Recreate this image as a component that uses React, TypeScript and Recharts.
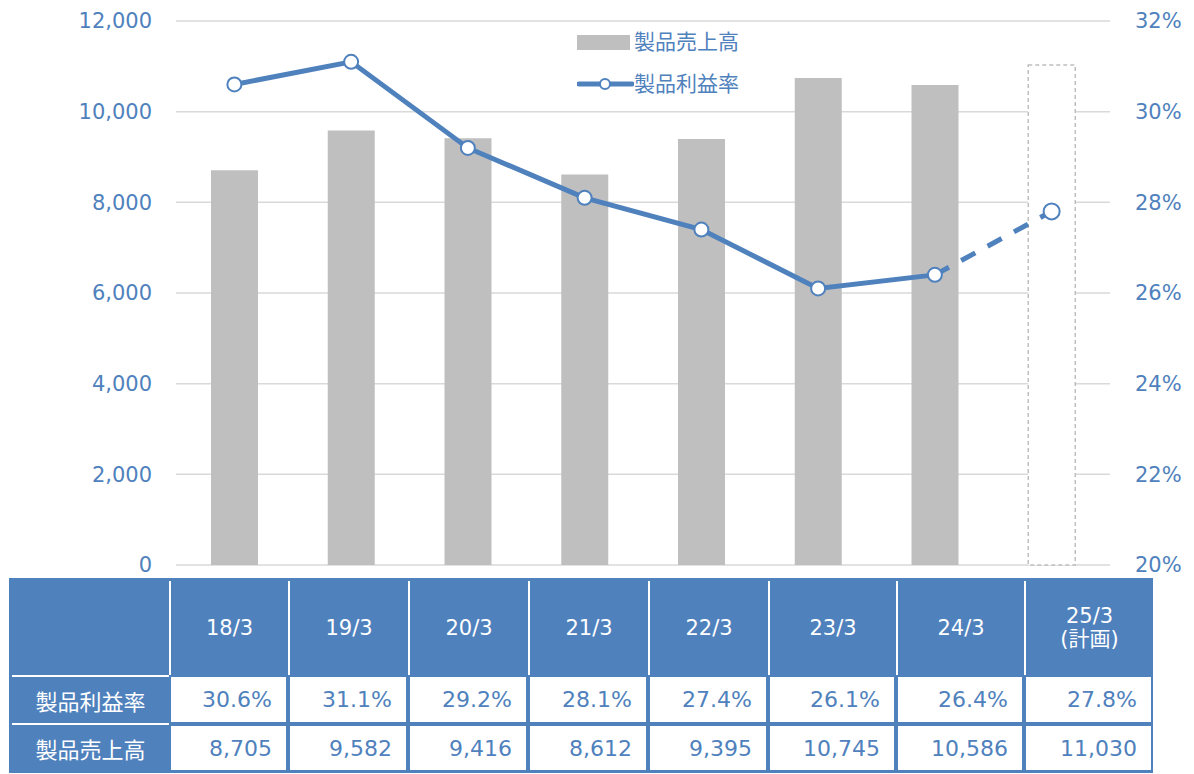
import React from 'react';
import {
  ComposedChart,
  Bar,
  Line,
  Cell,
  XAxis,
  YAxis,
  CartesianGrid,
} from 'recharts';

const categories = ['18/3', '19/3', '20/3', '21/3', '22/3', '23/3', '24/3', '25/3'];
const headerNotes = ['', '', '', '', '', '', '', '(計画)'];
const sales = [8705, 9582, 9416, 8612, 9395, 10745, 10586, 11030];
const profitRate = [30.6, 31.1, 29.2, 28.1, 27.4, 26.1, 26.4, 27.8];
const planIndex = 7;
const leftTicks = [0, 2000, 4000, 6000, 8000, 10000, 12000];
const rightTicks = [20, 22, 24, 26, 28, 30, 32];

const BLUE = '#4F81BD';
const GRAY = '#BFBFBF';
const FONT = '"DejaVu Sans", "Noto Sans CJK JP", sans-serif';

const data = categories.map((c, i) => ({
  name: c,
  sales: sales[i],
  actual: i < planIndex ? profitRate[i] : null,
  plan: i >= planIndex - 1 ? profitRate[i] : null,
}));

// table column edges (px)
const colEdges = [9, 169, 288, 408, 528, 648, 768, 896, 1024, 1153];

const LegendBox = () => (
  <div
    style={{
      position: 'absolute', left: 577, top: 30, fontFamily: FONT, fontSize: 21,
      color: BLUE, lineHeight: '24px',
    }}
  >
    <div style={{ display: 'flex', alignItems: 'center', height: 24 }}>
      <div style={{ width: 53, height: 15, background: GRAY, marginRight: 4 }} />
      <span>製品売上高</span>
    </div>
    <div style={{ display: 'flex', alignItems: 'center', height: 24, marginTop: 18 }}>
      <svg width={57} height={14}>
        <line x1={2} y1={7} x2={55} y2={7} stroke={BLUE} strokeWidth={5} strokeLinecap="round" />
        <circle cx={28} cy={7} r={5} fill="#fff" stroke={BLUE} strokeWidth={2} />
      </svg>
      <span>製品利益率</span>
    </div>
  </div>
);

const PlanDot = (props: any) => {
  const { cx, cy, index } = props;
  if (index !== planIndex || cx == null || cy == null) return <g key={`pd-${index}`} />;
  return <circle key={`pd-${index}`} cx={cx} cy={cy} r={8} fill="#fff" stroke={BLUE} strokeWidth={2} />;
};

const DataTable = () => {
  const cells: React.ReactNode[] = [];
  for (let i = 0; i < categories.length; i++) {
    const x0 = colEdges[i + 1];
    const x1 = colEdges[i + 2];
    cells.push(
      <div
        key={`h${i}`}
        style={{
          position: 'absolute', left: x0 - 9, top: 3, width: x1 - x0, height: 94,
          borderLeft: '2px solid #fff', boxSizing: 'border-box',
          display: 'flex', flexDirection: 'column', alignItems: 'center', justifyContent: 'center',
          color: '#fff', fontSize: 21, lineHeight: '23px',
        }}
      >
        <span>{categories[i]}</span>
        {headerNotes[i] && <span>{headerNotes[i]}</span>}
      </div>
    );
    const rows = [
      { top: 99, h: 45, text: profitRate[i].toFixed(1) + '%' },
      { top: 148, h: 44, text: sales[i].toLocaleString('en-US') },
    ];
    rows.forEach((r, j) => {
      cells.push(
        <div
          key={`d${i}-${j}`}
          style={{
            position: 'absolute', left: x0 - 9 + 2, top: r.top, width: x1 - x0 - 4, height: r.h,
            background: '#fff', color: BLUE, fontSize: 22,
            display: 'flex', alignItems: 'center', justifyContent: 'flex-end',
            paddingRight: 14, boxSizing: 'border-box',
          }}
        >
          {r.text}
        </div>
      );
    });
  }
  const labels = ['製品利益率', '製品売上高'];
  return (
    <div
      style={{
        position: 'absolute', left: 9, top: 578, width: 1144, height: 195,
        background: BLUE, fontFamily: FONT,
      }}
    >
      {labels.map((l, j) => (
        <div
          key={l}
          style={{
            position: 'absolute', left: 3, top: j === 0 ? 97 : 145, width: 157, height: 47,
            borderTop: '2px solid #fff', boxSizing: 'border-box',
            display: 'flex', alignItems: 'center', justifyContent: 'center',
            color: '#fff', fontSize: 22,
          }}
        >
          {l}
        </div>
      ))}
      {cells}
    </div>
  );
};

export default function App() {
  return (
    <div style={{ position: 'absolute', left: 0, top: 0, width: 1194, height: 774, background: '#fff', fontFamily: FONT }}>
      <ComposedChart
        width={1194}
        height={580}
        data={data}
        margin={{ top: 21, right: 0, bottom: 15, left: 0 }}
        barCategoryGap={0}
      >
        <CartesianGrid yAxisId="left" vertical={false} stroke="#D9D9D9" strokeWidth={1.5} />
        <XAxis dataKey="name" hide />
        <YAxis
          yAxisId="left"
          width={176}
          domain={[0, 12000]}
          ticks={leftTicks}
          axisLine={false}
          tickLine={false}
          tickSize={0}
          tickMargin={24}
          tickFormatter={(v: number) => v.toLocaleString('en-US')}
          tick={{ fill: BLUE, fontSize: 21, fontFamily: FONT }}
        />
        <YAxis
          yAxisId="right"
          orientation="right"
          width={84}
          domain={[20, 32]}
          ticks={rightTicks}
          axisLine={false}
          tickLine={false}
          tickSize={0}
          tickMargin={25}
          tickFormatter={(v: number) => `${v}%`}
          tick={{ fill: BLUE, fontSize: 21, fontFamily: FONT }}
        />
        <Bar yAxisId="left" dataKey="sales" barSize={47} isAnimationActive={false}>
          {data.map((_, i) => (
            <Cell
              key={i}
              fill={i === planIndex ? '#fff' : GRAY}
              stroke={i === planIndex ? GRAY : 'none'}
              strokeWidth={i === planIndex ? 1.5 : 0}
              strokeDasharray={i === planIndex ? '4 3' : undefined}
            />
          ))}
        </Bar>
        <Line
          yAxisId="right"
          dataKey="plan"
          stroke={BLUE}
          strokeWidth={5}
          strokeDasharray="16 14"
          dot={PlanDot}
          activeDot={false}
          isAnimationActive={false}
        />
        <Line
          yAxisId="right"
          dataKey="actual"
          stroke={BLUE}
          strokeWidth={5}
          dot={{ r: 7, fill: '#fff', stroke: BLUE, strokeWidth: 2 }}
          activeDot={false}
          isAnimationActive={false}
        />
      </ComposedChart>
      <LegendBox />
      <DataTable />
    </div>
  );
}
